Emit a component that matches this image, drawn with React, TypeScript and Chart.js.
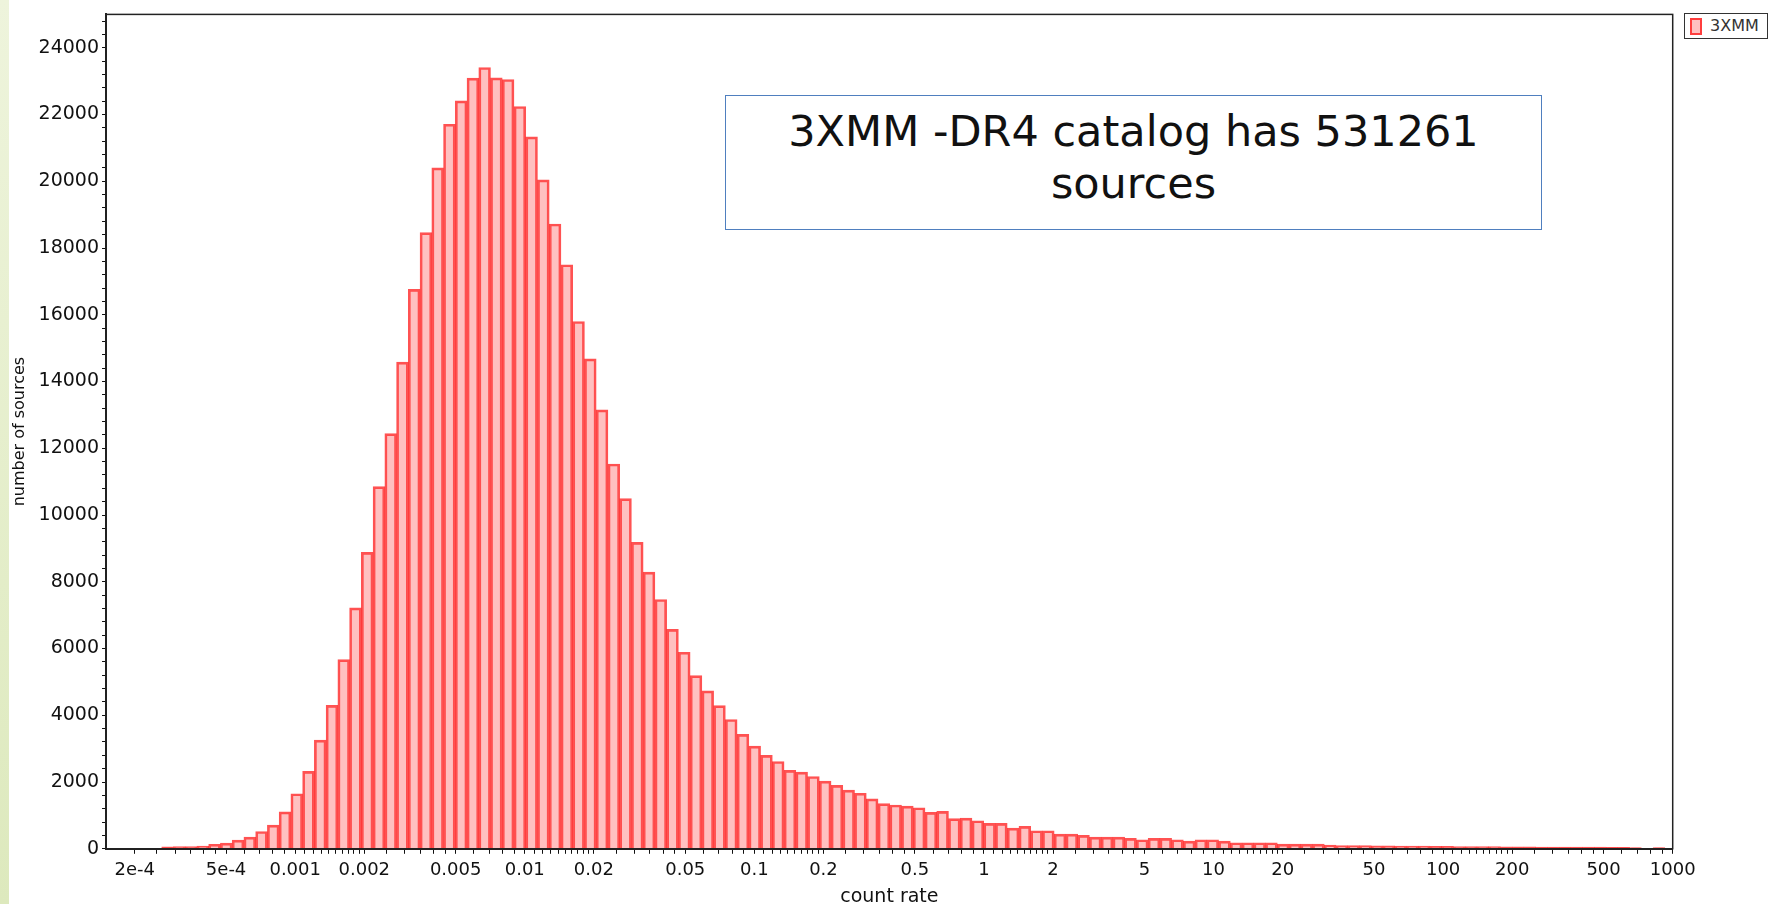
import React, { useEffect, useRef } from 'react';
import { Chart, registerables } from 'chart.js';

Chart.register(...registerables);

// ---------------- data ----------------
const SERIES_LABEL = '3XMM';
// histogram bins: uniform in log10(count rate)
const BIN_LOG_START = -3.5815; // log10 of the lower edge of the first bin
const BIN_LOG_WIDTH = 0.05115; // log10(1.125)
const COUNTS = [
  60, 65, 70, 80, 135, 170, 262, 350, 518, 710,
  1105, 1650, 2320, 3255, 4295, 5670, 7220, 8880, 10850, 12440,
  14580, 16760, 18460, 20400, 21710, 22410, 23090, 23410, 23100, 23050,
  22240, 21330, 20040, 18720, 17500, 15800, 14680, 13150, 11530, 10490,
  9180, 8290, 7470, 6575, 5890, 5190, 4730, 4290, 3875, 3430,
  3075, 2800, 2615, 2350, 2295, 2165, 2030, 1900, 1760, 1665,
  1495, 1355, 1313, 1280, 1230, 1090, 1120, 905, 920, 840,
  760, 760, 620, 670, 540, 540, 440, 440, 400, 350,
  350, 350, 310, 270, 310, 310, 270, 230, 270, 270,
  230, 180, 180, 180, 180, 140, 140, 140, 140, 110,
  100, 100, 95, 90, 90, 85, 80, 80, 75, 75,
  70, 70, 65, 65, 60, 60, 60, 55, 55, 55,
  50, 50, 50, 45, 45, 40, 0, 40,
];

const X_MIN = 1.5e-4;
const X_MAX = 1000;
const X_TICK_VALUES = [2e-4, 5e-4, 0.001, 0.002, 0.005, 0.01, 0.02, 0.05, 0.1, 0.2, 0.5, 1, 2, 5, 10, 20, 50, 100, 200, 500, 1000];
const X_TICK_LABELS = ['2e-4', '5e-4', '0.001', '0.002', '0.005', '0.01', '0.02', '0.05', '0.1', '0.2', '0.5', '1', '2', '5', '10', '20', '50', '100', '200', '500', '1000'];
const X_MINOR_MANTISSAS = [1.1, 1.2, 1.3, 1.4, 1.5, 1.6, 1.7, 1.8, 1.9, 2.5, 3, 3.5, 4, 4.5, 6, 7, 8, 9];

const Y_MIN = 0;
const Y_MAX = 25000;
const Y_TICK_VALUES = [0, 2000, 4000, 6000, 8000, 10000, 12000, 14000, 16000, 18000, 20000, 22000, 24000];
const Y_MINOR_STEP = 400;

const X_TITLE = 'count rate';
const Y_TITLE = 'number of sources';
const NOTE_LINES = ['3XMM -DR4 catalog has 531261', 'sources'];

// ---------------- styles ----------------
const FONT = 'DejaVu Sans';
const BAR_FILL = 'rgba(255, 60, 60, 0.32)';
const BAR_EDGE = 'rgba(255, 0, 0, 0.68)';

function buildXTicks(): number[] {
  const out: number[] = [...X_TICK_VALUES];
  for (let e = -4; e <= 2; e++) {
    for (const m of X_MINOR_MANTISSAS) {
      const v = Number((m * Math.pow(10, e)).toPrecision(6));
      if (v > X_TICK_VALUES[0] && v < X_MAX) out.push(v);
    }
  }
  return out.sort((a, b) => a - b);
}

function buildYTicks(): number[] {
  const out: number[] = [];
  for (let v = Y_MIN; v < Y_MAX; v += Y_MINOR_STEP) out.push(v);
  return out;
}

function xLabel(v: number): string {
  for (let i = 0; i < X_TICK_VALUES.length; i++) {
    if (Math.abs(Math.log10(v) - Math.log10(X_TICK_VALUES[i])) < 1e-6) return X_TICK_LABELS[i];
  }
  return '';
}

function yLabel(v: number): string {
  const i = Y_TICK_VALUES.indexOf(v);
  return i >= 0 ? String(Y_TICK_VALUES[i]) : '';
}

const framePlugin = {
  id: 'plotFrame',
  afterDraw(chart: any) {
    const { ctx, chartArea: a } = chart;
    ctx.save();
    ctx.strokeStyle = '#222';
    ctx.lineWidth = 1.5;
    ctx.strokeRect(a.left, a.top, a.right - a.left, a.bottom - a.top);
    ctx.restore();
  },
};

export default function App() {
  const canvasRef = useRef<HTMLCanvasElement | null>(null);

  useEffect(() => {
    const canvas = canvasRef.current;
    if (!canvas) return;
    const xTicks = buildXTicks();
    const yTicks = buildYTicks();
    const data = COUNTS.map((c, i) => ({
      x: Math.pow(10, BIN_LOG_START + (i + 0.5) * BIN_LOG_WIDTH),
      y: c,
    }));

    const chart = new Chart(canvas, {
      type: 'bar',
      data: {
        datasets: [
          {
            label: SERIES_LABEL,
            data,
            backgroundColor: BAR_FILL,
            borderColor: BAR_EDGE,
            borderWidth: 2,
            barThickness: 'flex',
            categoryPercentage: 1,
            barPercentage: 1,
          } as any,
        ],
      },
      options: {
        animation: false,
        responsive: true,
        maintainAspectRatio: false,
        layout: { padding: { left: 10, right: 98.3, top: 14, bottom: 0 } },
        plugins: {
          legend: { display: false },
          tooltip: { enabled: false },
          title: { display: false },
        },
        scales: {
          x: {
            type: 'logarithmic',
            min: X_MIN,
            max: X_MAX,
            offset: false,
            afterBuildTicks: (axis: any) => {
              axis.ticks = xTicks.map((v) => ({ value: v }));
            },
            ticks: {
              autoSkip: false,
              maxRotation: 0,
              minRotation: 0,
              padding: 6,
              color: '#111',
              font: { family: FONT, size: 18 },
              callback: (v: any) => xLabel(Number(v)),
            },
            grid: {
              display: true,
              drawOnChartArea: false,
              drawTicks: true,
              tickLength: 5,
              tickColor: '#111',
              offset: false,
            },
            border: { display: true, color: '#222', width: 2 },
            title: {
              display: true,
              text: X_TITLE,
              color: '#111',
              font: { family: FONT, size: 19, lineHeight: 0.8 },
              padding: { top: 2.4, bottom: -1 },
            },
          } as any,
          y: {
            type: 'linear',
            min: Y_MIN,
            max: Y_MAX,
            afterBuildTicks: (axis: any) => {
              axis.ticks = yTicks.map((v) => ({ value: v }));
            },
            ticks: {
              autoSkip: false,
              padding: 3,
              color: '#111',
              font: { family: FONT, size: 19 },
              callback: (v: any) => yLabel(Number(v)),
            },
            grid: {
              display: true,
              drawOnChartArea: false,
              drawTicks: true,
              tickLength: 4,
              tickColor: '#111',
            },
            border: { display: true, color: '#222', width: 2 },
            title: {
              display: true,
              text: Y_TITLE,
              color: '#111',
              font: { family: FONT, size: 16, lineHeight: 1.2 },
              padding: { top: 0, bottom: 6.4 },
            },
          } as any,
        },
      },
      plugins: [framePlugin],
    });

    return () => chart.destroy();
  }, []);

  return (
    <div
      style={{
        position: 'fixed',
        left: 0,
        top: 0,
        width: 1771,
        height: 904,
        background: '#ffffff',
        overflow: 'hidden',
      }}
    >
      <div
        style={{
          position: 'absolute',
          left: 0,
          top: 0,
          width: 9,
          height: 904,
          background: 'linear-gradient(to bottom, #eef4dc, #dde9bd)',
        }}
      />
      <div style={{ position: 'absolute', left: 0, top: 0, width: 1771, height: 904 }}>
        <canvas ref={canvasRef} />
      </div>
      {/* annotation box */}
      <div
        style={{
          position: 'absolute',
          left: 725,
          top: 95,
          width: 817,
          height: 135,
          boxSizing: 'border-box',
          border: '1px solid #4f7fbf',
          background: '#ffffff',
        }}
      />
      <div
        style={{
          position: 'absolute',
          left: 725,
          top: 105,
          width: 817,
          textAlign: 'center',
          fontFamily: FONT,
          fontSize: 43,
          lineHeight: '52px',
          color: '#111',
        }}
      >
        {NOTE_LINES.map((t, i) => (
          <div key={i}>{t}</div>
        ))}
      </div>
      {/* legend */}
      <div
        style={{
          position: 'absolute',
          left: 1684,
          top: 13,
          width: 84,
          height: 26,
          boxSizing: 'border-box',
          border: '1px solid #333',
          background: '#fff',
        }}
      >
        <div
          style={{
            position: 'absolute',
            left: 5,
            top: 4,
            width: 12,
            height: 17,
            boxSizing: 'border-box',
            background: BAR_FILL,
            border: `2px solid ${BAR_EDGE}`,
          }}
        />
        <div
          style={{
            position: 'absolute',
            left: 25,
            top: 0,
            height: 24,
            lineHeight: '24px',
            fontFamily: FONT,
            fontSize: 16,
            color: '#333',
            whiteSpace: 'nowrap',
          }}
        >
          {SERIES_LABEL}
        </div>
      </div>
    </div>
  );
}
